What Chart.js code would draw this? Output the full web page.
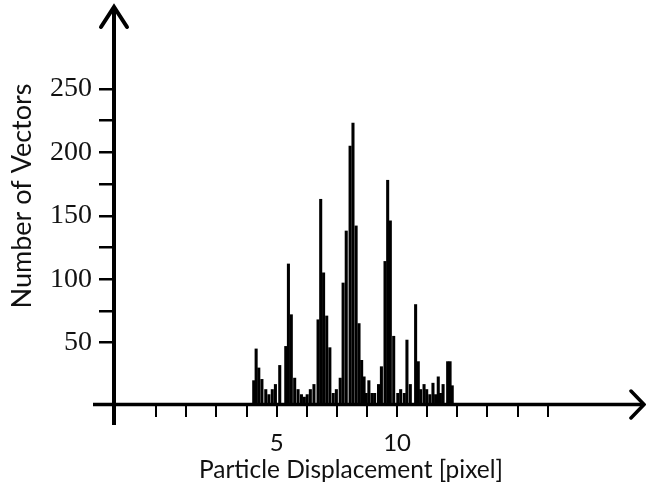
<!DOCTYPE html>
<html>
<head>
<meta charset="utf-8">
<script src="https://cdn.jsdelivr.net/npm/chart.js@4.4.1/dist/chart.umd.min.js"></script>
<style>
  html, body { margin: 0; padding: 0; background: #ffffff; }
  #wrap { width: 646px; height: 492px; position: relative; }
</style>
</head>
<body>
<div id="wrap"><canvas id="c"></canvas></div>
<script>
// ---- data ----
const displacement = [
  4.05, 4.15, 4.26, 4.39, 4.55, 4.68, 4.82, 4.95, 5.13, 5.38,
  5.49, 5.61, 5.75, 5.89, 6.03, 6.15, 6.27, 6.40, 6.55, 6.72,
  6.83, 6.95, 7.08, 7.21, 7.35, 7.48, 7.64, 7.76, 7.89, 8.05,
  8.17, 8.30, 8.42, 8.53, 8.63, 8.72, 8.83, 8.96, 9.07, 9.23,
  9.35, 9.50, 9.61, 9.72, 9.86, 10.03, 10.15, 10.30, 10.41, 10.55,
  10.77, 10.88, 10.98, 11.12, 11.23, 11.36, 11.49, 11.60, 11.71, 11.80,
  11.91, 12.10, 12.20, 12.29
];
const vectorCounts = [
  20, 45, 30, 21, 13, 9, 13, 17, 32, 47,
  112, 72, 22, 13, 9, 7, 9, 13, 17, 68,
  163, 105, 71, 46, 10, 13, 22, 97, 138, 205,
  223, 142, 65, 36, 23, 10, 20, 10, 10, 17,
  31, 114, 178, 146, 55, 10, 13, 10, 52, 17,
  80, 35, 13, 17, 13, 9, 18, 9, 23, 10,
  17, 35, 35, 16
];
const xTickValues = [0, 1.25, 2.5, 3.75, 5, 6.25, 7.5, 8.75, 10, 11.25, 12.5, 13.75, 15, 16.25];
const xTickLabels = { 5: '5', 10: '10' };
const yTickValues = [50, 75, 100, 125, 150, 175, 200, 225, 250];
const yLabelStep = 50;
const xTitle = 'Particle Displacement [pixel]';
const yTitle = 'Number of Vectors';

// ---- build chart ----
const points = displacement.map((d, i) => ({ x: d, y: vectorCounts[i] }));

const axesPlugin = {
  id: 'axesPlugin',
  afterDatasetsDraw(chart) {
    const { ctx, chartArea } = chart;
    const ax = chartArea.left;          // y axis position
    const ay = chartArea.bottom - 1.5;  // x axis position
    ctx.save();
    ctx.strokeStyle = '#000';
    ctx.lineJoin = 'miter';
    ctx.lineCap = 'butt';
    // x axis line
    ctx.lineWidth = 3.5;
    ctx.beginPath();
    ctx.moveTo(ax - 21, ay);
    ctx.lineTo(chartArea.right, ay);
    ctx.stroke();
    // right arrow head
    ctx.lineWidth = 3.5;
    ctx.lineCap = 'round';
    ctx.beginPath();
    ctx.moveTo(chartArea.right - 13, ay - 13.5);
    ctx.lineTo(chartArea.right, ay);
    ctx.lineTo(chartArea.right - 13, ay + 13.5);
    ctx.stroke();
    // y axis line
    ctx.lineCap = 'butt';
    ctx.lineWidth = 4;
    ctx.beginPath();
    ctx.moveTo(ax, chartArea.bottom + 19);
    ctx.lineTo(ax, chartArea.top + 1);
    ctx.stroke();
    // top arrow head
    ctx.lineCap = 'round';
    ctx.lineWidth = 4;
    ctx.beginPath();
    ctx.moveTo(ax - 13, chartArea.top + 21);
    ctx.lineTo(ax, chartArea.top + 1);
    ctx.lineTo(ax + 13, chartArea.top + 21);
    ctx.stroke();
    // axis titles
    ctx.fillStyle = '#111';
    ctx.textAlign = 'center';
    ctx.textBaseline = 'middle';
    ctx.font = '24.5px Lato';
    ctx.fillText(xTitle, 351, 470);
    ctx.translate(22, 196);
    ctx.rotate(-Math.PI / 2);
    ctx.font = '27px Lato';
    ctx.fillText(yTitle, 0, 0);
    ctx.restore();
  }
};

new Chart(document.getElementById('c'), {
  type: 'bar',
  data: {
    datasets: [{
      data: points,
      backgroundColor: '#000',
      borderWidth: 0,
      barThickness: 2.4
    }]
  },
  options: {
    responsive: true,
    maintainAspectRatio: false,
    animation: false,
    layout: { padding: { top: 6, right: 2, bottom: 0, left: 0 } },
    plugins: { legend: { display: false }, tooltip: { enabled: false }, title: { display: false } },
    scales: {
      x: {
        type: 'linear',
        offset: false,
        min: -1.75,
        max: 20.25,
        afterBuildTicks(scale) { scale.ticks = xTickValues.map(v => ({ value: v })); },
        afterFit(scale) { scale.height = 86; scale.paddingLeft = 0; scale.paddingRight = 0; },
        ticks: {
          autoSkip: false,
          maxRotation: 0,
          padding: 12,
          color: '#111',
          font: { family: 'Lato', size: 24 },
          callback: (v) => xTickLabels[v] || ''
        },
        grid: { offset: false, drawOnChartArea: false, drawTicks: true, tickLength: 11, color: '#000', lineWidth: 2 },
        border: { display: false }
      },
      y: {
        type: 'linear',
        min: 0,
        max: 315.4,
        afterBuildTicks(scale) { scale.ticks = yTickValues.map(v => ({ value: v })); },
        afterFit(scale) { scale.width = 114; scale.paddingTop = 0; scale.paddingBottom = 0; },
        ticks: {
          autoSkip: false,
          padding: 7,
          color: '#111',
          font: { family: 'Liberation Serif', size: 28 },
          callback: (v) => (v % yLabelStep === 0 ? String(v) : '')
        },
        grid: { drawOnChartArea: false, drawTicks: true, tickLength: 15, color: '#000', lineWidth: 2.5 },
        border: { display: false }
      }
    }
  },
  plugins: [axesPlugin]
});
</script>
</body>
</html>
